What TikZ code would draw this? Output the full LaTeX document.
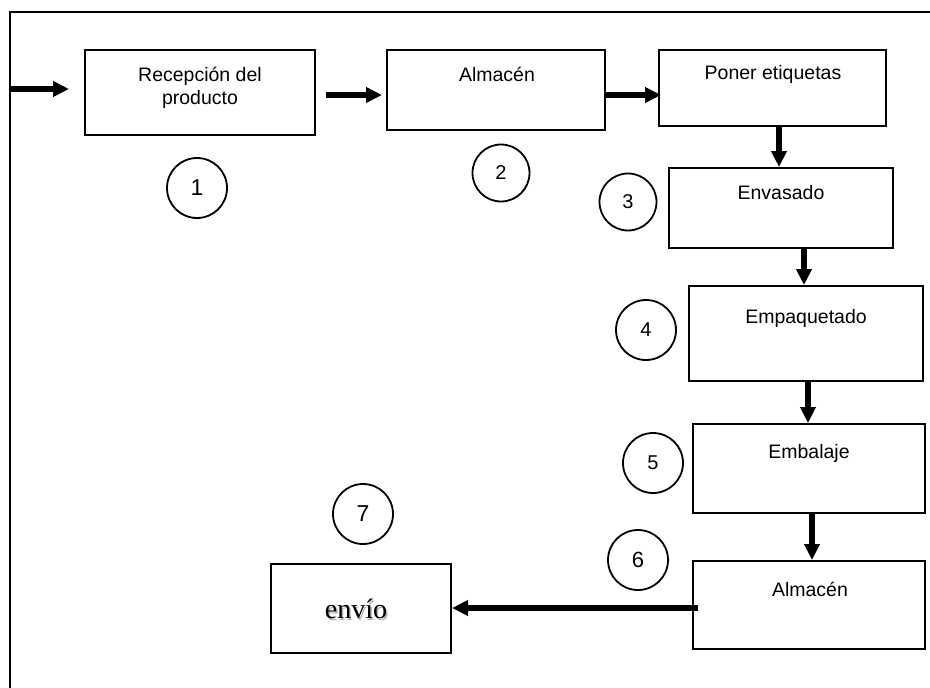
\documentclass[tikz,border=0pt]{standalone}
\usepackage{fontspec}
\setmainfont{Liberation Sans}
\newfontfamily\serifff{Liberation Serif}
\usetikzlibrary{arrows.meta,calc}
\tikzset{
  boxnode/.style={draw, line width=2pt, rectangle, inner sep=0pt},
  lbl/.style={inner sep=0pt, font=\fontsize{19.5}{23}\selectfont, align=center},
  num/.style={draw, circle, line width=1.8pt, inner sep=0pt, font=\fontsize{20}{24}\selectfont},
  arr/.style={line width=5.5pt, -{Triangle[length=16pt,width=15pt]}},
  frame/.style={line width=2.5pt}
}
\begin{document}
\begin{tikzpicture}[x=1pt,y=-1pt]
\useasboundingbox (0,0) rectangle (930,688);
% frame
\coordinate (fTR) at (930,12);
\coordinate (fTL) at (10,12);
\coordinate (fBL) at (10,688);
\draw[frame] (fTR) -- (fTL) -- (fBL);
% boxes
\node[boxnode, minimum width=230pt, minimum height=85pt] (b1) at (200,92.5) {};
\node[boxnode, minimum width=218pt, minimum height=80pt] (b2) at (496,90) {};
\node[boxnode, minimum width=227pt, minimum height=76pt] (b3) at (772.5,88) {};
\node[boxnode, minimum width=224pt, minimum height=80pt] (b4) at (781,208) {};
\node[boxnode, minimum width=234pt, minimum height=95pt] (b5) at (806,333.5) {};
\node[boxnode, minimum width=232pt, minimum height=89pt] (b6) at (809,468.5) {};
\node[boxnode, minimum width=232pt, minimum height=88pt] (b7) at (809,605) {};
\node[boxnode, minimum width=180pt, minimum height=89pt] (b8) at (361,608.5) {};
% labels
\node[lbl] (t1) at (200,88) {Recepción del\\producto};
\node[lbl] (t2) at (497,74) {Almacén};
\node[lbl] (t3) at (773,74) {Poner etiquetas};
\node[lbl] (t4) at (781,193) {Envasado};
\node[lbl] (t5) at (806,318) {Empaquetado};
\node[lbl] (t6) at (809,453) {Embalaje};
\node[lbl] (t7) at (810,589) {Almacén};
\node[inner sep=0pt, text=black!30, font=\serifff\fontsize{28}{32}\selectfont] (t8s) at (357.5,610.5) {envío};
\node[inner sep=0pt, font=\serifff\fontsize{28}{32}\selectfont] (t8) at (356,609) {envío};
% numbered circles
\node[num, minimum size=60pt, font=\fontsize{23}{26}\selectfont] (n1) at (197,188) {1};
\node[num, minimum size=57pt] (n2) at (501,173) {2};
\node[num, minimum size=57pt] (n3) at (628,202) {3};
\node[num, minimum size=60pt] (n4) at (646,330) {4};
\node[num, minimum size=60pt] (n5) at (653,463) {5};
\node[num, minimum size=60pt, font=\fontsize{22}{26}\selectfont] (n6) at (638,560) {6};
\node[num, minimum size=60pt, font=\fontsize{23}{26}\selectfont] (n7) at (363,514) {7};
% arrow columns
\coordinate (in) at (10,89);
\coordinate (c34) at (779,0);
\coordinate (c45) at (804,0);
\coordinate (c56) at (808,0);
\coordinate (c67) at (812,0);
\coordinate (r8) at (0,608);
% arrows
\draw[arr] (in) -- ($(b1.west)+(-15,-3.5)$);
\draw[arr] ($(b1.east)+(10,2.5)$) -- ($(b2.west)+(-4,5)$);
\draw[arr] ($(b2.east)+(0,5)$) -- ($(b3.west)+(3,7)$);
\draw[arr] (b3.south -| c34) -- (b4.north -| c34);
\draw[arr] (b4.south -| c45) -- (b5.north -| c45);
\draw[arr] (b5.south -| c56) -- (b6.north -| c56);
\draw[arr] (b6.south -| c67) -- (b7.north -| c67);
\draw[arr] ($(b7.west |- r8)+(6,0)$) -- (b8.east |- r8);
\end{tikzpicture}
\end{document}
